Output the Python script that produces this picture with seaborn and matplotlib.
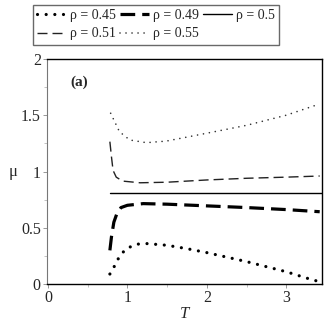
import matplotlib
matplotlib.use("Agg")
import matplotlib.pyplot as plt
import seaborn as sns
import numpy as np
from matplotlib.ticker import MultipleLocator
from matplotlib import font_manager as fm

sns.set_theme(style="white")
plt.rcParams['font.family'] = 'serif'
plt.rcParams['font.serif'] = ['Liberation Serif', 'DejaVu Serif']
plt.rcParams['mathtext.fontset'] = 'stix'

# ---- data ----
T_045 = [0.78, 0.83, 0.88, 0.94, 1.0, 1.12, 1.25, 1.5, 1.75, 2.0, 2.25, 2.5, 2.75, 3.0, 3.25, 3.4]
mu_045 = [0.09, 0.15, 0.22, 0.28, 0.32, 0.355, 0.36, 0.345, 0.315, 0.28, 0.24, 0.20, 0.155, 0.11, 0.055, 0.025]

T_049 = [0.78, 0.80, 0.83, 0.87, 0.92, 1.0, 1.2, 1.5, 2.0, 2.5, 3.0, 3.42]
mu_049 = [0.30, 0.42, 0.55, 0.63, 0.68, 0.70, 0.715, 0.71, 0.695, 0.68, 0.662, 0.643]

T_050 = [0.78, 3.45]
mu_050 = [0.806, 0.806]

T_051 = [0.78, 0.80, 0.82, 0.86, 0.94, 1.16, 1.5, 2.0, 2.5, 3.0, 3.42]
mu_051 = [1.265, 1.13, 1.01, 0.95, 0.915, 0.90, 0.905, 0.925, 0.94, 0.95, 0.96]

T_055 = [0.79, 0.9, 1.03, 1.24, 1.49, 2.0, 2.5, 3.0, 3.42]
mu_055 = [1.517, 1.354, 1.28, 1.256, 1.27, 1.34, 1.41, 1.50, 1.60]

labels = ["ρ = 0.45", "ρ = 0.49", "ρ = 0.5", "ρ = 0.51", "ρ = 0.55"]
x_ticks = [0, 1, 2, 3]
y_ticks = [0, 0.5, 1, 1.5, 2]
y_tick_labels = ["0", "0.5", "1", "1.5", "2"]

serif_path = fm.findfont(fm.FontProperties(family='Liberation Serif'))
serif_bold_path = fm.findfont(fm.FontProperties(family='Liberation Serif', weight='bold'))
serif_it_path = fm.findfont(fm.FontProperties(family='Liberation Serif', style='italic'))

def fp(size, path=serif_path):
    return fm.FontProperties(fname=path, size=size)

fig = plt.figure(figsize=(3.27, 3.27), dpi=100)
ax = fig.add_axes([0.144, 0.131, 0.841, 0.689])

series = [
    (T_045, mu_045, labels[0], dict(color="black", lw=2.3, linestyle=(0, (0.01, 2.7)), dash_capstyle="round")),
    (T_049, mu_049, labels[1], dict(color="black", lw=2.3, linestyle=(0, (4.6, 2.2)), dash_capstyle="butt")),
    (T_050, mu_050, labels[2], dict(color="black", lw=1.0, linestyle="-")),
    (T_051, mu_051, labels[3], dict(color="#222222", lw=1.0, linestyle=(0, (7.2, 3.6)))),
    (T_055, mu_055, labels[4], dict(color="#333333", lw=1.2, linestyle=(0, (0.01, 3.6)), dash_capstyle="round")),
]

for T, mu, lab, st in series:
    sns.lineplot(x=np.asarray(T), y=np.asarray(mu), ax=ax, label=lab, estimator=None, sort=True, **st)

h, l = ax.get_legend_handles_labels()
if ax.get_legend():
    ax.get_legend().remove()
order = [0, 3, 1, 4, 2]
leg = fig.legend([h[i] for i in order], [l[i] for i in order], ncol=3,
                 loc="upper left", bbox_to_anchor=(33 / 327, 1 - 5 / 327),
                 frameon=True, fancybox=False, edgecolor="#444444",
                 prop=fp(10.0), handlelength=2.05, handletextpad=0.28,
                 columnspacing=0.35, labelspacing=0.38, borderpad=0.3,
                 borderaxespad=0.0)
leg.get_frame().set_linewidth(1.0)

ax.set_xlim(-0.01, 3.45)
ax.set_ylim(0, 2)
ax.set_xticks(x_ticks)
ax.set_yticks(y_ticks)
ax.set_yticklabels(y_tick_labels)
ax.xaxis.set_minor_locator(MultipleLocator(0.5))
ax.yaxis.set_minor_locator(MultipleLocator(0.25))
ax.tick_params(axis="both", which="major", direction="out", length=3, width=0.6,
               color="#888888", pad=1.5, left=True, bottom=True)
ax.tick_params(axis="both", which="minor", direction="out", length=2, width=0.5,
               color="#aaaaaa", left=True, bottom=True)
for t in ax.get_xticklabels() + ax.get_yticklabels():
    t.set_fontproperties(fp(11.5))

for s in ["top", "right", "bottom"]:
    ax.spines[s].set_color("black")
    ax.spines[s].set_linewidth(1.0)
ax.spines["left"].set_color("#777777")
ax.spines["left"].set_linewidth(0.8)

ax.set_xlabel("T", fontproperties=fp(12, serif_it_path), labelpad=0)
ax.set_ylabel("μ", fontproperties=fp(12), rotation=0, va="center")
ax.yaxis.set_label_coords(-0.125, 0.5)
ax.text(0.40, 1.79, "(a)", fontproperties=fp(11, serif_bold_path), ha="center", va="center")

fig.savefig("out.png", dpi=100)
